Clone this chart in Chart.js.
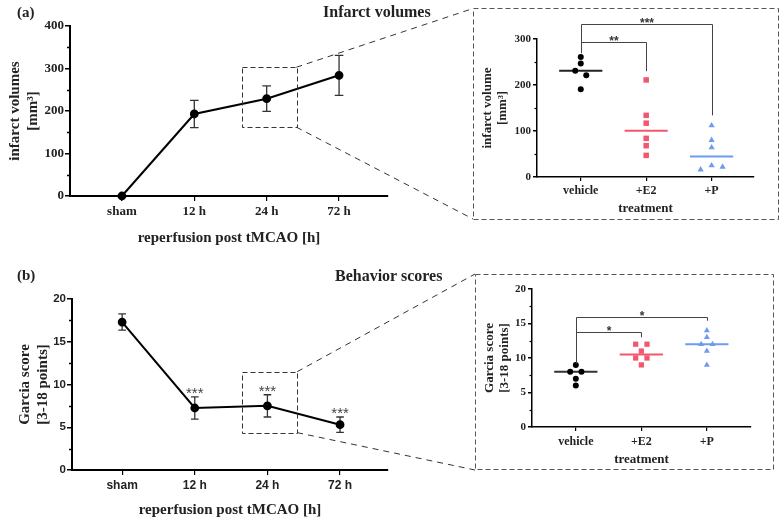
<!DOCTYPE html>
<html><head><meta charset="utf-8">
<script src="https://cdn.jsdelivr.net/npm/chart.js@4.4.1/dist/chart.umd.min.js"></script>
<style>
html,body{margin:0;padding:0;background:#fff;}
#wrap{position:relative;width:784px;height:523px;overflow:hidden;background:#fff;}
canvas{position:absolute;}
.lbl{position:absolute;font-family:'Liberation Serif','DejaVu Serif',serif;font-weight:bold;color:#222;white-space:nowrap;line-height:1;}
</style></head><body>
<div id="wrap">
<canvas id="cA" width="473" height="250" style="left:0;top:0"></canvas>
<canvas id="cAi" width="306" height="212" style="left:473px;top:8px"></canvas>
<canvas id="cB" width="475" height="273" style="left:0;top:250px"></canvas>
<canvas id="cBi" width="299" height="196" style="left:475px;top:274px"></canvas>
<div class="lbl" style="left:17px;top:5px;font-size:15px">(a)</div>
<div class="lbl" style="left:323px;top:4px;font-size:16px">Infarct volumes</div>
<div class="lbl" style="left:17px;top:268px;font-size:15px">(b)</div>
<div class="lbl" style="left:335px;top:268px;font-size:16px">Behavior scores</div>
</div>
<script>
// ---------- data ----------
const timeLabels = ['sham', '12 h', '24 h', '72 h'];
const infarctMean = [0, 193, 229, 284];
const infarctErr = [0, 32, 30, 47];
const garciaMean = [17.3, 7.25, 7.5, 5.3];
const garciaErr = [0.95, 1.3, 1.3, 0.9];
const garciaSig = ['', '***', '***', '***'];

const treatLabels = ['vehicle', '+E2', '+P'];
const infVehicle = [261, 247, 231, 221, 191];
const infE2 = [211, 134, 117, 84, 68, 47];
const infP = [112, 80, 64, 25, 22, 16];
const garVehicle = [9, 8, 8, 7, 6];
const garE2 = [12, 12, 11, 10, 10, 9];
const garP = [14, 13, 12, 12, 11, 9];

// significance brackets: [from, to, level, drop-level, label]
const infBrackets = [[0, 2, 333, 134, '***'], [0, 1, 294, 230, '**']];
const infStemBottom = 269;
const garBrackets = [[0, 2, 16, 15.4, '*'], [0, 1, 13.8, 13, '*']];
const garStemBottom = 9.2;

// ---------- helpers ----------
const SERIF = "'Liberation Serif','DejaVu Serif',serif";
const SANS = "'Liberation Sans','DejaVu Sans',sans-serif";
Chart.defaults.font.family = SERIF;
Chart.defaults.font.weight = 'bold';
Chart.defaults.color = '#222';

function median(a) {
  const s = [...a].sort((p, q) => p - q), n = s.length;
  return n % 2 ? s[(n - 1) / 2] : (s[n / 2 - 1] + s[n / 2]) / 2;
}
// simple column scatter: points closer than thrPx vertically are spread side by side
function swarm(values, center, unitPx, thrPx, step) {
  const idx = values.map((v, i) => i).sort((a, b) => values[b] - values[a]);
  const rows = []; let row = [];
  idx.forEach(i => {
    if (row.length && (values[row[row.length - 1]] - values[i]) * unitPx < thrPx) row.push(i);
    else { if (row.length) rows.push(row); row = [i]; }
  });
  if (row.length) rows.push(row);
  const pts = [];
  rows.forEach(r => {
    let offs;
    if (r.length === 1) offs = [0];
    else if (r.length === 2) offs = [-step / 2, step / 2];
    else if (r.length === 3) offs = [0, step, -step];
    else offs = r.map((_, k) => (k - (r.length - 1) / 2) * step);
    r.forEach((i, k) => pts.push({ x: center + offs[k], y: values[i] }));
  });
  return pts;
}

// ---------- plugins ----------
const minorTicks = {
  id: 'minorTicks',
  afterDraw(chart, a, o) {
    const { ctx, scales: { y } } = chart;
    ctx.save(); ctx.strokeStyle = '#000'; ctx.lineWidth = o.lw;
    for (let v = y.min + o.major / 2; v < y.max; v += o.major) {
      const py = Math.round(y.getPixelForValue(v)) + 0.5;
      ctx.beginPath(); ctx.moveTo(y.right, py); ctx.lineTo(y.right - o.len, py); ctx.stroke();
    }
    ctx.restore();
  }
};
const errorBars = {
  id: 'errorBars',
  beforeDatasetsDraw(chart, a, o) {
    const { ctx, scales: { x, y } } = chart;
    ctx.save(); ctx.strokeStyle = o.color; ctx.lineWidth = o.lw;
    o.means.forEach((m, i) => {
      const e = o.errs[i];
      const px = x.getPixelForValue(i), t = y.getPixelForValue(m + e), b = y.getPixelForValue(m - e);
      if (e) {
        ctx.beginPath();
        ctx.moveTo(px, t); ctx.lineTo(px, b);
        ctx.moveTo(px - o.cap, t); ctx.lineTo(px + o.cap, t);
        ctx.moveTo(px - o.cap, b); ctx.lineTo(px + o.cap, b);
        ctx.stroke();
      }
      if (o.labels && o.labels[i]) {
        ctx.fillStyle = o.labelColor; ctx.font = o.labelFont;
        ctx.textAlign = 'center'; ctx.textBaseline = 'alphabetic';
        ctx.fillText(o.labels[i], px, t + o.labelDy);
      }
    });
    ctx.restore();
  }
};
const zoomLink = {
  id: 'zoomLink',
  afterDraw(chart, a, o) {
    const { ctx, scales: { x, y } } = chart;
    const x1 = x.getPixelForValue(o.x0), x2 = x.getPixelForValue(o.x1);
    const y1 = y.getPixelForValue(o.y1), y2 = y.getPixelForValue(o.y0);
    ctx.save(); ctx.strokeStyle = '#333'; ctx.lineWidth = 1;
    ctx.setLineDash([5, 3]);
    ctx.strokeRect(Math.round(x1) + 0.5, Math.round(y1) + 0.5, Math.round(x2 - x1), Math.round(y2 - y1));
    ctx.setLineDash([6, 5]);
    ctx.beginPath();
    ctx.moveTo(x2, y1); ctx.lineTo(chart.width, o.ty0);
    ctx.moveTo(x2, y2); ctx.lineTo(chart.width, o.ty1);
    ctx.stroke();
    ctx.restore();
  }
};
const insetDeco = {
  id: 'insetDeco',
  beforeDatasetsDraw(chart, a, o) {
    const { ctx, scales: { x, y } } = chart;
    ctx.save(); ctx.lineWidth = o.mlw;
    o.medians.forEach((m, i) => {
      const py = y.getPixelForValue(m);
      ctx.strokeStyle = o.colors[i];
      ctx.beginPath(); ctx.moveTo(x.getPixelForValue(i - 0.33), py); ctx.lineTo(x.getPixelForValue(i + 0.33), py); ctx.stroke();
    });
    ctx.restore();
  },
  afterDraw(chart, a, o) {
    const { ctx, scales: { x, y } } = chart;
    ctx.save();
    // dashed frame
    ctx.strokeStyle = '#555'; ctx.lineWidth = 1; ctx.setLineDash([5, 3]);
    ctx.strokeRect(0.5, 0.5, chart.width - 1, chart.height - 1);
    ctx.setLineDash([]);
    // brackets
    ctx.strokeStyle = '#444'; ctx.lineWidth = 1;
    const sx = Math.round(x.getPixelForValue(0)) + 0.5;
    const topY = Math.min(...o.brackets.map(b => y.getPixelForValue(b[2])));
    ctx.beginPath(); ctx.moveTo(sx, Math.round(topY) + 0.5); ctx.lineTo(sx, y.getPixelForValue(o.stem)); ctx.stroke();
    o.brackets.forEach(b => {
      const ex = Math.round(x.getPixelForValue(b[1])) + 0.5;
      const by = Math.round(y.getPixelForValue(b[2])) + 0.5;
      ctx.beginPath(); ctx.moveTo(sx, by); ctx.lineTo(ex, by); ctx.lineTo(ex, y.getPixelForValue(b[3])); ctx.stroke();
      ctx.fillStyle = '#333'; ctx.font = o.starFont; ctx.textAlign = 'center'; ctx.textBaseline = 'alphabetic';
      ctx.fillText(b[4], (sx + ex) / 2, by + o.starDy);
    });
    ctx.restore();
  }
};

// ---------- common axis builders ----------
function catAxis(labels, min, max, tickFont, title, titleFont, titlePad, height, bw, tl, tpad) {
  return {
    type: 'linear', min, max,
    afterBuildTicks: s => { s.ticks = labels.map((_, i) => ({ value: i })); },
    ticks: { callback: v => labels[v], font: tickFont, color: '#222', padding: tpad, maxRotation: 0, autoSkip: false },
    grid: { drawOnChartArea: false, drawTicks: true, tickLength: tl, color: '#000', lineWidth: 1.2 },
    border: { color: '#000', width: bw },
    title: { display: true, text: title, font: titleFont, color: '#222', padding: { top: 0, bottom: titlePad } },
    afterFit: s => { s.height = height; }
  };
}
function valAxis(min, max, step, tickFont, title, titleFont, titlePad, width, bw, tl, tpad) {
  return {
    min, max,
    ticks: { stepSize: step, font: tickFont, color: '#222', padding: tpad },
    grid: { drawOnChartArea: false, drawTicks: true, tickLength: tl, color: '#000', lineWidth: 1.5 },
    border: { color: '#000', width: bw },
    title: { display: true, text: title, font: titleFont, color: '#222', padding: { top: titlePad, bottom: 0 } },
    afterFit: s => { s.width = width; }
  };
}
const base = { responsive: false, animation: false, devicePixelRatio: 1, events: [] };

// ---------- (a) time course ----------
new Chart(document.getElementById('cA'), {
  type: 'line',
  data: { datasets: [{ data: infarctMean.map((v, i) => ({ x: i, y: v })), borderColor: '#000', borderWidth: 2,
    pointRadius: 3.4, pointBackgroundColor: '#000', pointBorderColor: '#000', tension: 0, clip: false }] },
  options: Object.assign({}, base, {
    layout: { padding: { top: 26, right: 85, left: 0, bottom: 0 } },
    plugins: { legend: { display: false }, tooltip: { enabled: false },
      minorTicks: { major: 100, len: 3, lw: 1.5 },
      errorBars: { means: infarctMean, errs: infarctErr, color: '#333', lw: 1.3, cap: 4.3 },
      zoomLink: { x0: 1.655, x1: 2.41, y0: 162, y1: 303, ty0: 8.5, ty1: 219 } },
    scales: {
      x: catAxis(timeLabels, -0.717, 3.676, { size: 13, weight: 'bold', family: SERIF }, 'reperfusion post tMCAO [h]', { size: 15, weight: 'bold', family: SERIF }, 3, 54, 2, 5, 3),
      y: valAxis(0, 400, 100, { size: 13, weight: 'bold', family: SERIF }, ['infarct volumes', '[mm³]'], { size: 15, weight: 'bold', family: SERIF }, 6, 70, 2, 5, 1)
    }
  }),
  plugins: [minorTicks, errorBars, zoomLink]
});

// ---------- (a) inset ----------
const aUnit = 138 / 300;
new Chart(document.getElementById('cAi'), {
  type: 'scatter',
  data: { datasets: [
    { data: swarm(infVehicle, 0, aUnit, 5.5, 0.168), pointStyle: 'circle', pointRadius: 3, backgroundColor: '#000', borderColor: '#000', borderWidth: 0, clip: false },
    { data: swarm(infE2, 1, aUnit, 5.5, 0.168), pointStyle: 'rect', pointRadius: 3.9, backgroundColor: '#F2576F', borderColor: '#F2576F', borderWidth: 0, clip: false },
    { data: swarm(infP, 2, aUnit, 5.5, 0.168), pointStyle: 'triangle', pointRadius: 3.6, backgroundColor: '#6E9BF0', borderColor: '#6E9BF0', borderWidth: 0, clip: false }
  ] },
  options: Object.assign({}, base, {
    layout: { padding: { top: 31, right: 25, left: 0, bottom: 0 } },
    plugins: { legend: { display: false }, tooltip: { enabled: false },
      minorTicks: { major: 100, len: 2.5, lw: 1.2 },
      insetDeco: { medians: [median(infVehicle), median(infE2), median(infP)], colors: ['#222', '#F2576F', '#6E9BF0'], mlw: 2,
        brackets: infBrackets, stem: infStemBottom, starFont: 'bold 12px ' + SANS, starDy: 2.5 } },
    scales: {
      x: catAxis(treatLabels, -0.669, 2.648, { size: 12, weight: 'bold', family: SERIF }, 'treatment', { size: 13, weight: 'bold', family: SERIF }, 3.2, 43, 1.5, 4, 3),
      y: valAxis(0, 300, 100, { size: 11, weight: 'bold', family: SERIF }, ['infarct volume', '[mm³]'], { size: 13, weight: 'bold', family: SERIF }, 6.5, 64, 1.5, 4, 2)
    }
  }),
  plugins: [minorTicks, insetDeco]
});

// ---------- (b) time course ----------
new Chart(document.getElementById('cB'), {
  type: 'line',
  data: { datasets: [{ data: garciaMean.map((v, i) => ({ x: i, y: v })), borderColor: '#000', borderWidth: 2,
    pointRadius: 3.4, pointBackgroundColor: '#000', pointBorderColor: '#000', tension: 0, clip: false }] },
  options: Object.assign({}, base, {
    layout: { padding: { top: 49, right: 87, left: 0, bottom: 0 } },
    plugins: { legend: { display: false }, tooltip: { enabled: false },
      minorTicks: { major: 5, len: 3, lw: 1.5 },
      errorBars: { means: garciaMean, errs: garciaErr, color: '#333', lw: 1.3, cap: 3.8, labels: garciaSig, labelColor: '#444', labelFont: '15px ' + SANS, labelDy: 1.5 },
      zoomLink: { x0: 1.655, x1: 2.41, y0: 4.37, y1: 11.5, ty0: 24, ty1: 220 } },
    scales: {
      x: catAxis(timeLabels, -0.69, 3.66, { size: 12, weight: 'bold', family: SANS }, 'reperfusion post tMCAO [h]', { size: 15, weight: 'bold', family: SERIF }, 4, 53, 2, 5, 3),
      y: valAxis(0, 20, 5, { size: 11.5, weight: 'bold', family: SANS }, ['Garcia score', '[3-18 points]'], { size: 15, weight: 'bold', family: SERIF }, 16, 72, 2, 5, 1)
    }
  }),
  plugins: [minorTicks, errorBars, zoomLink]
});

// ---------- (b) inset ----------
const bUnit = 138 / 20;
new Chart(document.getElementById('cBi'), {
  type: 'scatter',
  data: { datasets: [
    { data: swarm(garVehicle, 0, bUnit, 4.5, 0.173), pointStyle: 'circle', pointRadius: 3, backgroundColor: '#000', borderColor: '#000', borderWidth: 0, clip: false },
    { data: swarm(garE2, 1, bUnit, 4.5, 0.173), pointStyle: 'rect', pointRadius: 3.7, backgroundColor: '#F2576F', borderColor: '#F2576F', borderWidth: 0, clip: false },
    { data: swarm(garP, 2, bUnit, 4.5, 0.173), pointStyle: 'triangle', pointRadius: 3.5, backgroundColor: '#6E9BF0', borderColor: '#6E9BF0', borderWidth: 0, clip: false }
  ] },
  options: Object.assign({}, base, {
    layout: { padding: { top: 15, right: 23, left: 0, bottom: 0 } },
    plugins: { legend: { display: false }, tooltip: { enabled: false },
      minorTicks: { major: 5, len: 2.5, lw: 1.2 },
      insetDeco: { medians: [median(garVehicle), median(garE2), median(garP)], colors: ['#333', '#F2576F', '#6E9BF0'], mlw: 2,
        brackets: garBrackets, stem: garStemBottom, starFont: 'bold 12px ' + SANS, starDy: 2.5 } },
    scales: {
      x: catAxis(treatLabels, -0.669, 2.674, { size: 12, weight: 'bold', family: SERIF }, 'treatment', { size: 13, weight: 'bold', family: SERIF }, 2.2, 43, 1.5, 4, 3.5),
      y: valAxis(0, 20, 5, { size: 11, weight: 'bold', family: SERIF }, ['Garcia score', '[3-18 points]'], { size: 13, weight: 'bold', family: SERIF }, 6.5, 57, 1.5, 4, 2)
    }
  }),
  plugins: [minorTicks, insetDeco]
});
</script>
</body></html>
